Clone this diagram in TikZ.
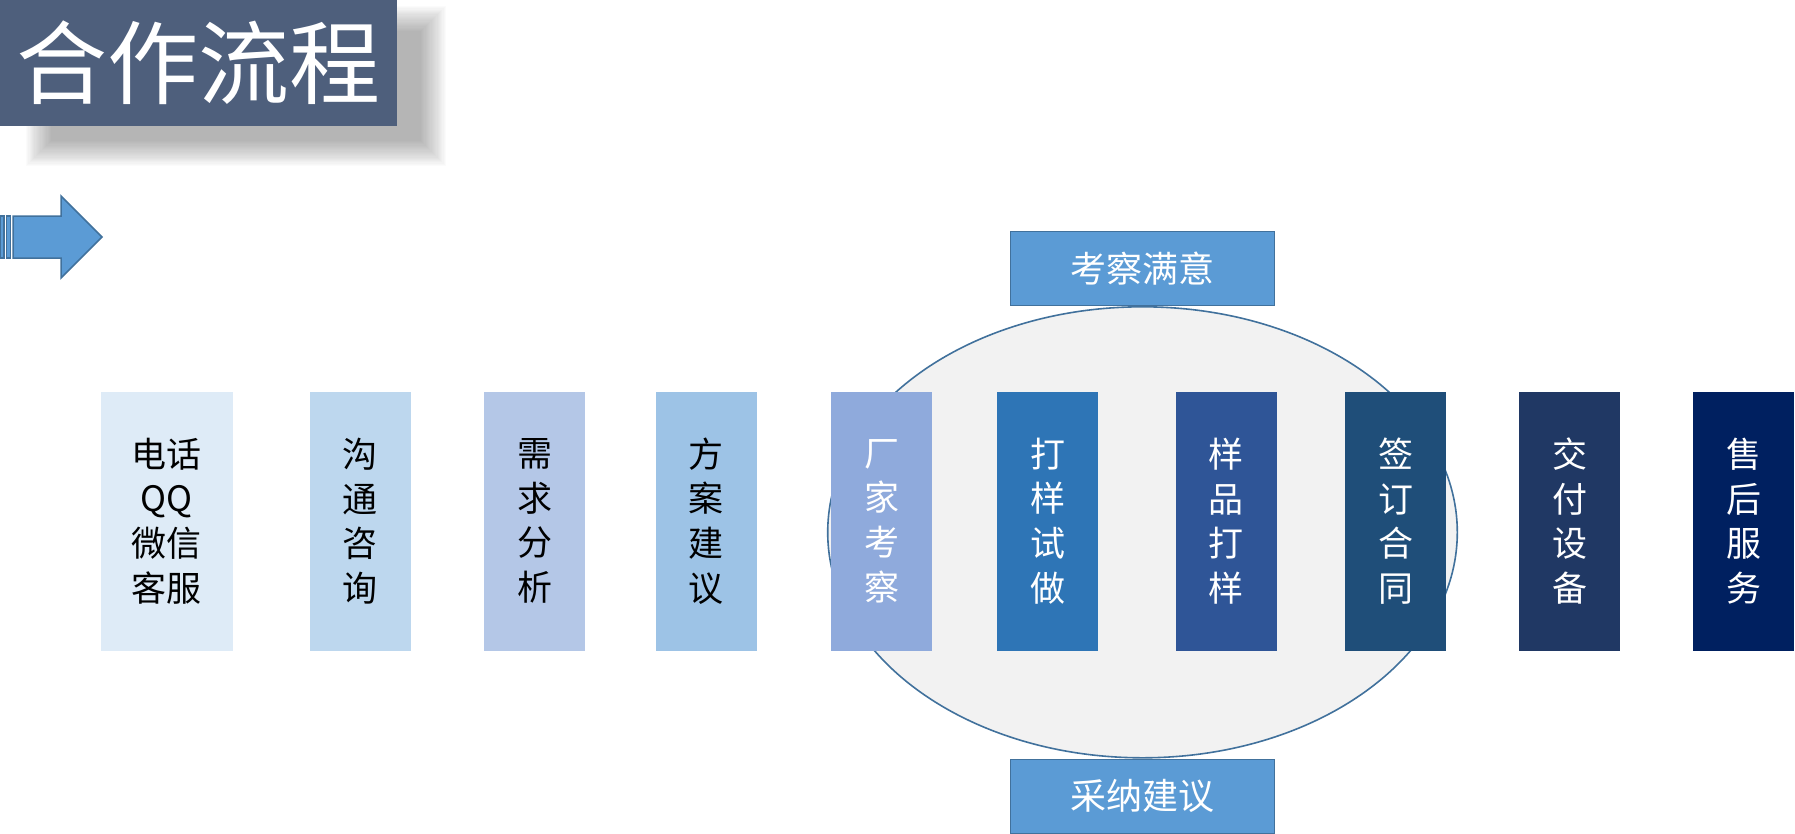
\documentclass[tikz,border=0pt]{standalone}
\usepackage{fontspec}
\usetikzlibrary{shapes.geometric}
\newfontfamily\cjk{Noto Sans CJK SC}
\definecolor{titlebg}{HTML}{4E5F7C}
\definecolor{arrowfill}{HTML}{5B9BD5}
\definecolor{arrowline}{HTML}{41719C}
\definecolor{ellfill}{HTML}{F2F2F2}
\definecolor{cA}{HTML}{DEEBF7}
\definecolor{cB}{HTML}{BDD7EE}
\definecolor{cC}{HTML}{B4C7E7}
\definecolor{cD}{HTML}{9DC3E6}
\definecolor{cE}{HTML}{8FAADC}
\definecolor{cF}{HTML}{2E75B6}
\definecolor{cG}{HTML}{2F5597}
\definecolor{cH}{HTML}{1F4E79}
\definecolor{cI}{HTML}{203864}
\definecolor{cJ}{HTML}{002060}
\tikzset{
  stepbox/.style={inner sep=0pt, minimum width=101pt, minimum height=259pt, align=center,
    font=\cjk\fontsize{35}{44.6}\selectfont},
  labelbox/.style={draw=arrowline, line width=1.5pt, fill=arrowfill, text=white, inner sep=0pt,
    minimum width=264pt, minimum height=74pt, font=\cjk\fontsize{36}{40}\selectfont},
}
\begin{document}
\begin{tikzpicture}[x=1pt,y=-1pt]
\useasboundingbox (0,0) rectangle (1795,833);
% soft shadow of title
\foreach \i in {0,...,21}{
  \fill[black, opacity=0.017] (26+1.2*\i,6+1.2*\i) rectangle (446-1.2*\i,166-1.2*\i);
}
\node[fill=titlebg, inner sep=0pt, minimum width=397pt, minimum height=126pt, text=white,
  font=\cjk\fontsize{91}{95}\selectfont] (title) at (198.5,63) {合作流程};
% striped arrow
\filldraw[fill=arrowfill, draw=arrowline, line width=1.5pt]
  (13,216) -- (61,216) -- (61,196) -- (102,237) -- (61,278) -- (61,258) -- (13,258) -- cycle;
\filldraw[fill=arrowfill, draw=arrowline, line width=1.2pt] (0.6,216) rectangle (4,258);
\filldraw[fill=arrowfill, draw=arrowline, line width=1.2pt] (6.5,216) rectangle (10.5,258);
% ellipse
\node[draw=arrowline, line width=1.6pt, fill=ellfill, ellipse, inner sep=0pt,
  minimum width=629.6pt, minimum height=451pt] (ell) at (1142.5,532.3) {};
% steps
\node[stepbox, fill=cA, minimum width=132pt] (s1) at (166.5,521) {电话\\QQ\\微信\\客服};
\node[stepbox, fill=cB] (s2) at (360,521) {沟\\通\\咨\\询};
\node[stepbox, fill=cC] (s3) at (534.6,521) {需\\求\\分\\析};
\node[stepbox, fill=cD] (s4) at (706.4,521) {方\\案\\建\\议};
\node[stepbox, fill=cE, text=white] (s5) at (881.5,521) {厂\\家\\考\\察};
\node[stepbox, fill=cF, text=white] (s6) at (1047.5,521) {打\\样\\试\\做};
\node[stepbox, fill=cG, text=white] (s7) at (1226.1,521) {样\\品\\打\\样};
\node[stepbox, fill=cH, text=white] (s8) at (1395.5,521) {签\\订\\合\\同};
\node[stepbox, fill=cI, text=white] (s9) at (1569.5,521) {交\\付\\设\\备};
\node[stepbox, fill=cJ, text=white] (s10) at (1743.5,521) {售\\后\\服\\务};
% labels
\node[labelbox, anchor=south] (top) at (ell.north) {考察满意};
\node[labelbox, anchor=north] (bot) at (ell.south) {采纳建议};
\end{tikzpicture}
\end{document}
